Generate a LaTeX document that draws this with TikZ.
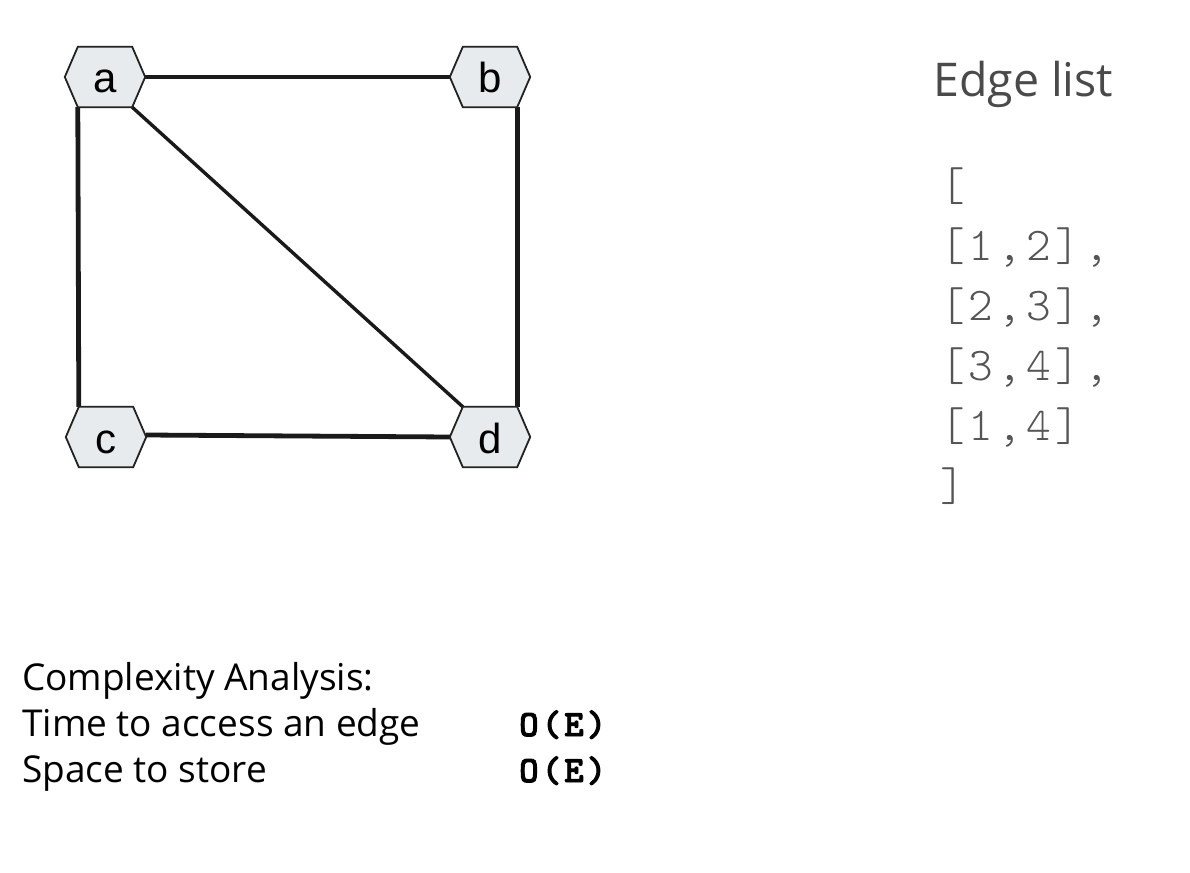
\documentclass[tikz,border=0pt]{standalone}
\usepackage{fontspec}
\setmainfont{Open Sans}
\newfontfamily\labfont{Liberation Sans}
\newfontfamily\codefont{lmmonolt10-regular}[Extension=.otf, LetterSpace=8.7]
\newfontfamily\bigofont{lmmonolt10-bold}[Extension=.otf, LetterSpace=8.4, FakeBold=2.4]
\definecolor{hexfill}{HTML}{E8EBED}
\definecolor{hexline}{HTML}{222222}
\definecolor{edgecol}{HTML}{1A1A1A}
\definecolor{titlegray}{HTML}{4A4A4A}
\definecolor{codegray}{HTML}{555555}
\tikzset{
  vertex/.style={shape=rectangle, minimum width=80pt, minimum height=60pt, inner sep=0pt},
  vlabel/.style={anchor=base, inner sep=0pt, font=\labfont\fontsize{42}{42}\selectfont},
  hexshape/.style={draw=hexline, fill=hexfill, line width=1.8pt, line join=miter},
  edge/.style={draw=edgecol, line width=4.8pt},
  diag/.style={draw=edgecol, line width=3.4pt},
  titletext/.style={anchor=base west, inner sep=0pt, text=titlegray, font=\fontsize{46.5}{46.5}\selectfont},
  codetext/.style={anchor=base west, inner sep=0pt, text=codegray, font=\codefont\fontsize{47}{47}\selectfont},
  infotext/.style={anchor=base west, inner sep=0pt, text=black, font=\fontsize{37}{37}\selectfont},
  bigo/.style={anchor=base west, inner sep=0pt, text=black, font=\bigofont\fontsize{37}{37}\selectfont},
}
\newcommand{\hexat}[1]{%
  \path[hexshape] (#1.west) -- ([xshift=13pt]#1.north west) -- ([xshift=-13pt]#1.north east) -- (#1.east) -- ([xshift=-13pt]#1.south east) -- ([xshift=13pt]#1.south west) -- cycle;
  \node[vlabel] at ([yshift=-16pt]#1.center) {#1};}
\begin{document}
\begin{tikzpicture}[x=1pt, y=-1pt]
\useasboundingbox[fill=white] (0,0) rectangle (1190,872);
% vertex placeholders
\node[vertex] (a) at (105,77) {};
\node[vertex] (b) at (490,77) {};
\node[vertex] (c) at (106,437) {};
\node[vertex] (d) at (490,437) {};
% edges
\draw[edge] (a.east) -- (b.west);
\draw[edge] ([xshift=13pt]a.south west) -- ([xshift=13pt]c.north west);
\draw[diag] ([xshift=-13pt]a.south east) -- ([xshift=13pt]d.north west);
\draw[edge] ([xshift=-13pt]b.south east) -- ([xshift=-13pt]d.north east);
\draw[edge] ([yshift=2pt]c.east) -- (d.west);
% hexagons
\hexat{a}
\hexat{b}
\hexat{c}
\hexat{d}
% edge list
\node[titletext] (title) at (933,97) {Edge list};
\node[codetext] (l0) at (940,200) {[};
\node[codetext] (l1) at (940,260) {[1,2],};
\node[codetext] (l2) at (940,320) {[2,3],};
\node[codetext] (l3) at (940,380) {[3,4],};
\node[codetext] (l4) at (940,440) {[1,4]};
\node[codetext] (l5) at (940,500) {]};
% complexity
\node[infotext] (ca) at (22,690) {Complexity Analysis:};
\node[infotext] (ta) at (22,736) {Time to access an edge};
\node[infotext] (ss) at (22,782) {Space to store};
\node[bigo] (o1) at (519,736) {O(E)};
\node[bigo] (o2) at (519,782) {O(E)};
\end{tikzpicture}
\end{document}
